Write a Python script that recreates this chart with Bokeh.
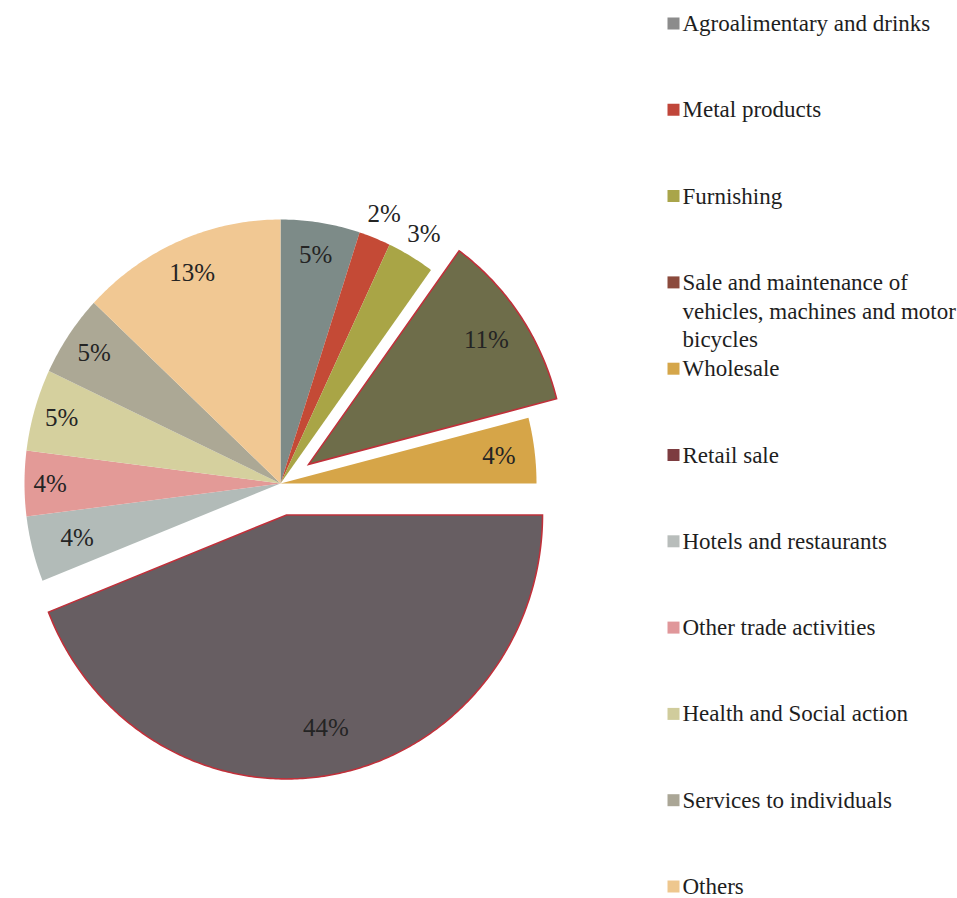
import math
from bokeh.plotting import figure
from bokeh.models import Range1d
from bokeh.core.properties import value
from bokeh.embed import file_html
from bokeh.resources import INLINE

# ---- data ----
categories = [
    "Agroalimentary and drinks",
    "Metal products",
    "Furnishing",
    "Sale and maintenance of\nvehicles, machines and motor\nbicycles",
    "Wholesale",
    "Retail sale",
    "Hotels and restaurants",
    "Other trade activities",
    "Health and Social action",
    "Services to individuals",
    "Others",
]
values = [5, 2, 3, 11, 4, 44, 4, 4, 5, 5, 13]

# ---- styles ----
slice_colors = ["#7d8b88", "#c44a36", "#a9a546", "#6e6d4a", "#d6a548", "#675e62",
                "#b2bbb8", "#e39a97", "#d5d09e", "#aca895", "#f1c893"]
legend_colors = ["#8c8c8c", "#c0463a", "#a9a54a", "#8b4a3c", "#d5a64a", "#7d3c40",
                 "#b8bdbb", "#e0979a", "#d0cc9c", "#aaa696", "#eec78e"]
explode_px = [0, 0, 0, 34, 0, 32, 0, 0, 0, 0, 0]
label_frac = [0.88, 1.1, 1.1, 0.84, 0.86, 0.82, 0.82, 0.9, 0.89, 0.88, 0.87]

W, H = 957, 898
CX, CY, RX, RY = 280.0, 483.0, 256.0, 264.0
FONT = "Liberation Serif"

p = figure(width=W, height=H, x_range=Range1d(0, W), y_range=Range1d(H, 0),
           x_axis_type=None, y_axis_type=None, toolbar_location=None,
           output_backend="svg", min_border=0, outline_line_color=None)
p.grid.visible = False
p.background_fill_color = "white"

total = float(sum(values))
xs, ys, lx, ly = [], [], [], []
cum = 0.0
for v, d, lf in zip(values, explode_px, label_frac):
    a0 = cum / total * 2 * math.pi
    a1 = (cum + v) / total * 2 * math.pi
    cum += v
    am = (a0 + a1) / 2
    ox = d * math.sin(am)
    oy = -d * math.cos(am)
    cx, cy = CX + ox, CY + oy
    n = max(8, int(v * 6))
    px = [cx]
    py = [cy]
    for k in range(n + 1):
        t = a0 + (a1 - a0) * k / n
        px.append(cx + RX * math.sin(t))
        py.append(cy - RY * math.cos(t))
    xs.append(px)
    ys.append(py)
    lx.append(cx + lf * RX * math.sin(am))
    ly.append(cy - lf * RY * math.cos(am))

norm = [i for i, d in enumerate(explode_px) if d == 0]
expl = [i for i, d in enumerate(explode_px) if d != 0]

p.patches(xs=[xs[i] for i in norm], ys=[ys[i] for i in norm],
          fill_color=[slice_colors[i] for i in norm], line_color=None)
p.patches(xs=[xs[i] for i in expl], ys=[ys[i] for i in expl],
          fill_color=[slice_colors[i] for i in expl], line_color="#c0303a",
          line_width=1.6, line_join="miter")

labels = [f"{v}%" for v in values]
p.text(x=lx, y=ly, text=labels, text_font=value(FONT), text_font_size="25px",
       text_color="#242424", text_align="center", text_baseline="middle")

# ---- legend ----
LX0, LY0, LSTEP = 673.0, 23.0, 86.3
leg_y = [LY0 + i * LSTEP for i in range(len(categories))]
p.rect(x=[LX0] * len(categories), y=leg_y, width=12, height=12,
       fill_color=legend_colors, line_color=None)
p.text(x=[LX0 + 9] * len(categories), y=[yy - 12.5 for yy in leg_y], text=categories,
       text_font=value(FONT), text_font_size="23px", text_color="#1e1e1e",
       text_align="left", text_baseline="top", text_line_height=1.15)

open("out.html", "w").write(file_html(p, INLINE))
